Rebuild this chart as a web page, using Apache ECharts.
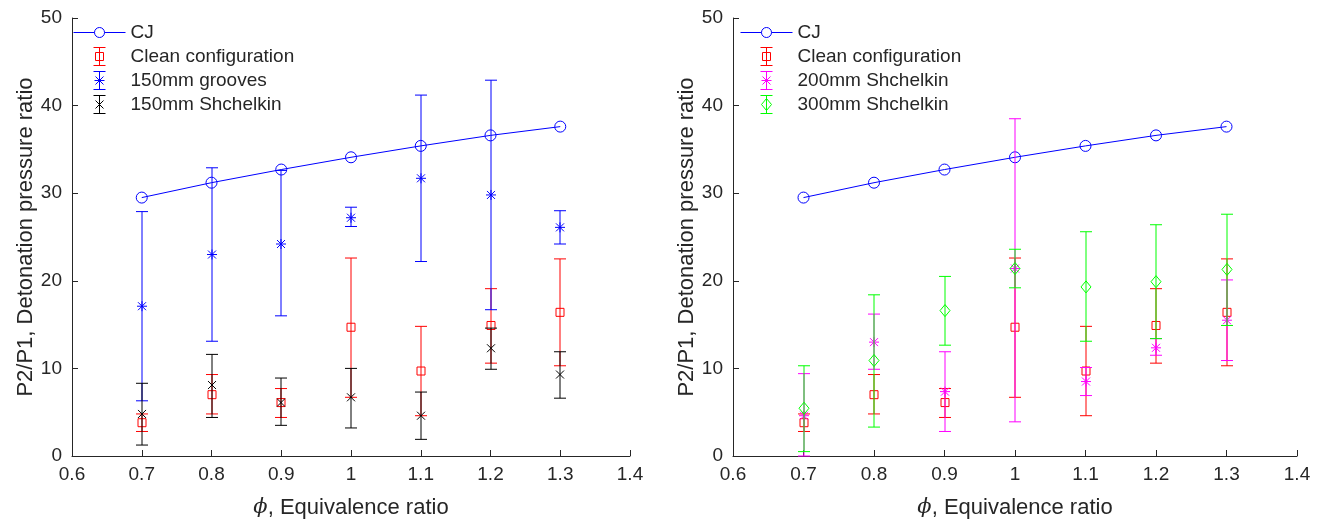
<!DOCTYPE html>
<html>
<head>
<meta charset="utf-8">
<script src="https://cdn.jsdelivr.net/npm/echarts@6/dist/echarts.min.js"></script>
<style>
html,body{margin:0;padding:0;background:#fff;}
#main{width:1323px;height:524px;}
</style>
</head>
<body>
<div id="main"></div>
<script>
// ---- data ----
const phi = [0.7, 0.8, 0.9, 1.0, 1.1, 1.2, 1.3];
const xTicks = [0.6, 0.7, 0.8, 0.9, 1.0, 1.1, 1.2, 1.3, 1.4];
const yTicks = [0, 10, 20, 30, 40, 50];
const cj = [29.5, 31.2, 32.7, 34.1, 35.4, 36.6, 37.6];
const cleanMean = [3.8, 7.0, 6.1, 14.7, 9.7, 14.9, 16.4];
const cleanLow  = [2.8, 4.8, 4.4, 6.7, 4.6, 10.6, 10.3];
const cleanHigh = [4.8, 9.3, 7.7, 22.6, 14.8, 19.1, 22.5];
const groovesMean = [17.1, 23.0, 24.2, 27.2, 31.7, 29.8, 26.1];
const groovesLow  = [6.3, 13.1, 16.0, 26.2, 22.2, 16.7, 24.2];
const groovesHigh = [27.9, 32.9, 32.6, 28.4, 41.2, 42.9, 28.0];
const shch150Mean = [4.8, 8.1, 6.1, 6.7, 4.6, 12.3, 9.3];
const shch150Low  = [1.25, 4.4, 3.5, 3.2, 1.9, 9.9, 6.6];
const shch150High = [8.3, 11.6, 8.9, 10.0, 7.3, 14.6, 11.9];
const shch200Mean = [4.6, 13.0, 7.35, 21.4, 8.5, 12.35, 15.5];
const shch200Low  = [0.0, 9.9, 2.8, 3.9, 6.9, 11.5, 10.9];
const shch200High = [9.4, 16.2, 11.9, 38.5, 10.1, 13.4, 20.1];
const shch300Mean = [5.45, 10.9, 16.6, 21.4, 19.3, 19.9, 21.3];
const shch300Low  = [0.5, 3.3, 12.65, 19.2, 13.1, 13.4, 14.9];
const shch300High = [10.3, 18.4, 20.5, 23.6, 25.6, 26.4, 27.6];

const FONT = 'Liberation Sans, Arial, Helvetica, sans-serif';
const TXT = '#262626';
const C_BLUE = '#0000ff', C_RED = '#ff0000', C_BLACK = '#000000', C_MAG = '#ff00ff', C_GREEN = '#00ff00';

function errData(m, lo, hi) {
  return phi.map((x, i) => [x, m[i], lo[i], hi[i]]);
}

function markerShapes(kind, x, y, st) {
  if (kind === 'square') {
    return [{type: 'rect', shape: {x: x - 4, y: y - 4, width: 8, height: 8}, style: st}];
  }
  if (kind === 'cross') {
    return [
      {type: 'line', shape: {x1: x - 4, y1: y - 4, x2: x + 4, y2: y + 4}, style: st},
      {type: 'line', shape: {x1: x - 4, y1: y + 4, x2: x + 4, y2: y - 4}, style: st}
    ];
  }
  if (kind === 'star') {
    return [
      {type: 'line', shape: {x1: x, y1: y - 5, x2: x, y2: y + 5}, style: st},
      {type: 'line', shape: {x1: x - 5, y1: y, x2: x + 5, y2: y}, style: st},
      {type: 'line', shape: {x1: x - 4, y1: y - 4, x2: x + 4, y2: y + 4}, style: st},
      {type: 'line', shape: {x1: x - 4, y1: y + 4, x2: x + 4, y2: y - 4}, style: st}
    ];
  }
  if (kind === 'diamond') {
    return [{type: 'polygon', shape: {points: [[x, y - 6], [x + 5, y], [x, y + 6], [x - 5, y]]}, style: st}];
  }
  return [];
}

function errRender(kind) {
  return function (params, api) {
    const x = api.value(0), m = api.value(1), lo = api.value(2), hi = api.value(3);
    const c = api.coord([x, m]), l = api.coord([x, lo]), h = api.coord([x, hi]);
    const px = Math.round(c[0]);
    const col = api.visual('color');
    const st = {stroke: col, lineWidth: 1, fill: null};
    const w = 6;
    const ch = [
      {type: 'line', shape: {x1: px, y1: l[1], x2: px, y2: h[1]}, style: st},
      {type: 'line', shape: {x1: px - w, y1: l[1], x2: px + w, y2: l[1]}, style: st},
      {type: 'line', shape: {x1: px - w, y1: h[1], x2: px + w, y2: h[1]}, style: st}
    ].concat(markerShapes(kind, px, c[1], st));
    return {type: 'group', children: ch};
  };
}

const ICONS = {
  cj:      'path://M0,9L21,9M31,9L52,9M31,9A5,5,0,1,1,21,9A5,5,0,1,1,31,9',
  square:  'path://M0,0L12,0M6,0L6,18M0,18L12,18M2,5L10,5L10,13L2,13Z',
  star:    'path://M0,0L12,0M6,0L6,18M0,18L12,18M1,9L11,9M2,5L10,13M2,13L10,5',
  cross:   'path://M0,0L12,0M6,0L6,18M0,18L12,18M2,5L10,13M2,13L10,5',
  diamond: 'path://M0,0L12,0M6,0L6,18M0,18L12,18M6,3L11,9L6,15L1,9Z'
};

function xAxisDef(gi) {
  return {
    gridIndex: gi, type: 'value', min: 0.6, max: 1.4, interval: 0.1,
    name: '{i|ϕ}, Equivalence ratio', nameLocation: 'middle', nameGap: 41,
    nameTextStyle: {fontFamily: FONT, fontSize: 22, color: TXT,
      rich: {i: {fontFamily: 'DejaVu Serif, serif', fontStyle: 'italic', fontSize: 21, color: TXT}}},
    axisLine: {show: true, onZero: false, lineStyle: {color: TXT, width: 1}},
    axisTick: {show: true, inside: true, length: 6, lineStyle: {color: TXT}},
    axisLabel: {fontFamily: FONT, fontSize: 19, color: TXT, margin: 9},
    splitLine: {show: false}
  };
}
function yAxisDef(gi) {
  return {
    gridIndex: gi, type: 'value', min: 0, max: 50, interval: 10,
    name: 'P2/P1, Detonation pressure ratio', nameLocation: 'middle', nameGap: 32,
    nameTextStyle: {fontFamily: FONT, fontSize: 22, color: TXT},
    axisLine: {show: true, onZero: false, lineStyle: {color: TXT, width: 1}},
    axisTick: {show: true, inside: true, length: 6, lineStyle: {color: TXT}},
    axisLabel: {fontFamily: FONT, fontSize: 19, color: TXT, margin: 10},
    splitLine: {show: false}
  };
}

function cjSeries(gi) {
  return {
    name: 'CJ', type: 'line', xAxisIndex: gi, yAxisIndex: gi,
    data: phi.map((x, i) => [x, cj[i]]),
    symbol: 'circle', symbolSize: 11, showSymbol: true,
    color: C_BLUE,
    lineStyle: {color: C_BLUE, width: 1},
    itemStyle: {color: 'rgba(0,0,0,0)', borderColor: C_BLUE, borderWidth: 1},
    emphasis: {disabled: true}, animation: false, z: 2
  };
}
function errSeries(name, gi, color, kind, m, lo, hi) {
  return {
    name: name, type: 'custom', xAxisIndex: gi, yAxisIndex: gi,
    color: color,
    itemStyle: {color: color, borderColor: color, borderWidth: 1},
    renderItem: errRender(kind),
    encode: {x: 0, y: [1, 2, 3]},
    data: errData(m, lo, hi),
    animation: false, z: 3
  };
}

function legItem(name, icon, color) {
  return {name: name, icon: icon,
    itemStyle: {color: 'rgba(0,0,0,0)', borderColor: color, borderWidth: 1, opacity: 1}};
}

function legendDef(left, items) {
  return {
    orient: 'vertical', left: left, top: 23, padding: 0,
    itemWidth: 52, itemHeight: 18, itemGap: 5,
    textStyle: {fontFamily: FONT, fontSize: 19, color: TXT, lineHeight: 18},
    selectedMode: false,
    data: items
  };
}

const chart = echarts.init(document.getElementById('main'), null, {renderer: 'canvas'});
chart.setOption({
  backgroundColor: '#fff',
  animation: false,
  grid: [
    {left: 72, right: 693, top: 18, bottom: 66},
    {left: 733, right: 26, top: 18, bottom: 66}
  ],
  xAxis: [xAxisDef(0), xAxisDef(1)],
  yAxis: [yAxisDef(0), yAxisDef(1)],
  legend: [
    legendDef(73, [
      legItem('CJ', ICONS.cj, C_BLUE),
      legItem('Clean configuration', ICONS.square, C_RED),
      legItem('150mm grooves', ICONS.star, C_BLUE),
      legItem('150mm Shchelkin', ICONS.cross, C_BLACK)
    ]),
    legendDef(740, [
      legItem('CJ', ICONS.cj, C_BLUE),
      legItem('Clean configuration', ICONS.square, C_RED),
      legItem('200mm Shchelkin', ICONS.star, C_MAG),
      legItem('300mm Shchelkin', ICONS.diamond, C_GREEN)
    ])
  ],
  series: [
    cjSeries(0),
    errSeries('Clean configuration', 0, C_RED, 'square', cleanMean, cleanLow, cleanHigh),
    errSeries('150mm grooves', 0, C_BLUE, 'star', groovesMean, groovesLow, groovesHigh),
    errSeries('150mm Shchelkin', 0, C_BLACK, 'cross', shch150Mean, shch150Low, shch150High),
    cjSeries(1),
    errSeries('Clean configuration', 1, C_RED, 'square', cleanMean, cleanLow, cleanHigh),
    errSeries('200mm Shchelkin', 1, C_MAG, 'star', shch200Mean, shch200Low, shch200High),
    errSeries('300mm Shchelkin', 1, C_GREEN, 'diamond', shch300Mean, shch300Low, shch300High)
  ]
});
</script>
</body>
</html>
